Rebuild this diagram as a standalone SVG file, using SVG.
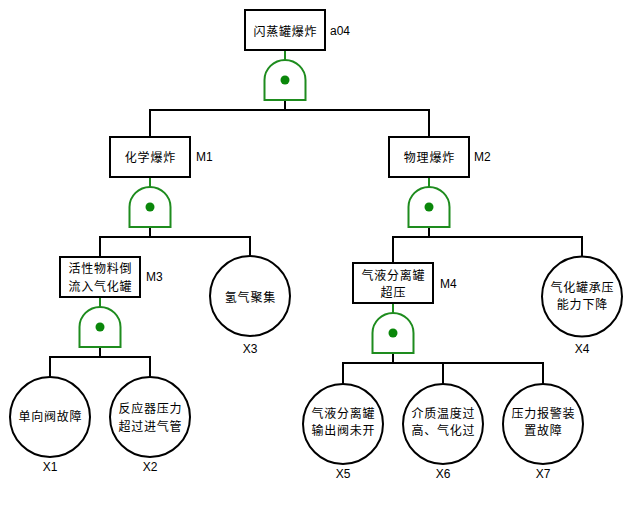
<svg xmlns="http://www.w3.org/2000/svg" width="632" height="523" viewBox="0 0 632 523">
<defs>
<style>
.bg{fill:#ffffff}
.box{fill:#ffffff;stroke:#000;stroke-width:2}
.evt{fill:#ffffff;stroke:#000;stroke-width:2}
.gate{fill:#ffffff;stroke:#1e8c1e;stroke-width:2}
.dot{fill:#0a870a}
.gstem{stroke:#1e8c1e;stroke-width:2;fill:none}
.line{stroke:#000;stroke-width:2;fill:none}
.t{font-family:"Noto Sans CJK SC","Microsoft YaHei",sans-serif;font-size:12px;letter-spacing:0.8px;fill:#000;text-anchor:middle;dominant-baseline:central}
.lbl{font-family:"Liberation Sans",Arial,sans-serif;font-size:12px;fill:#000;dominant-baseline:central}
.lblc{font-family:"Liberation Sans",Arial,sans-serif;font-size:12px;fill:#000;text-anchor:middle;dominant-baseline:central}
</style>
<path id="andgate" d="M-20.5,40 V20 A20.5,20 0 0 1 20.5,20 V40 Z"/>
</defs>
<rect class="bg" x="0" y="0" width="632" height="523"/>

<g id="connectors">
<line class="gstem" x1="285" y1="50" x2="285" y2="60"/>
<line class="line" x1="285" y1="100" x2="285" y2="110"/>
<polyline class="line" points="150,137 150,110 429,110 429,137"/>

<line class="gstem" x1="150" y1="177" x2="150" y2="187"/>
<line class="line" x1="150" y1="227" x2="150" y2="237"/>
<polyline class="line" points="100,257 100,237 250,237 250,256"/>

<line class="gstem" x1="100" y1="297" x2="100" y2="307"/>
<line class="line" x1="100" y1="347" x2="100" y2="357"/>
<polyline class="line" points="50,377 50,357 150,357 150,377"/>

<line class="gstem" x1="429" y1="177" x2="429" y2="187"/>
<line class="line" x1="429" y1="227" x2="429" y2="237"/>
<polyline class="line" points="393,263 393,237 582,237 582,256"/>

<line class="gstem" x1="393" y1="303" x2="393" y2="313"/>
<line class="line" x1="393" y1="353" x2="393" y2="363"/>
<polyline class="line" points="343,384 343,363 543,363 543,384"/>
<line class="line" x1="443" y1="363" x2="443" y2="384"/>
</g>

<g id="a04">
<rect class="box" x="245" y="10" width="80" height="40"/>
<text class="t" x="285.4" y="30">闪蒸罐爆炸</text>
<text class="lbl" x="330" y="31">a04</text>
</g>
<g id="gate-a04">
<use href="#andgate" class="gate" transform="translate(285,60)"/>
<circle class="dot" cx="285" cy="80" r="4.5"/>
</g>

<g id="M1">
<rect class="box" x="110" y="137" width="80" height="40"/>
<text class="t" x="150.4" y="156">化学爆炸</text>
<text class="lbl" x="196" y="157">M1</text>
</g>
<g id="gate-M1">
<use href="#andgate" class="gate" transform="translate(150,187)"/>
<circle class="dot" cx="150" cy="207" r="4.5"/>
</g>

<g id="M2">
<rect class="box" x="389" y="137" width="80" height="40"/>
<text class="t" x="429.4" y="156">物理爆炸</text>
<text class="lbl" x="474" y="157">M2</text>
</g>
<g id="gate-M2">
<use href="#andgate" class="gate" transform="translate(429,187)"/>
<circle class="dot" cx="429" cy="207" r="4.5"/>
</g>

<g id="M3">
<rect class="box" x="60" y="257" width="80" height="40"/>
<text class="t" x="100.4" y="267.5">活性物料倒</text>
<text class="t" x="100.4" y="285">流入气化罐</text>
<text class="lbl" x="146" y="277">M3</text>
</g>
<g id="gate-M3">
<use href="#andgate" class="gate" transform="translate(100,307)"/>
<circle class="dot" cx="100" cy="327" r="4.5"/>
</g>

<g id="M4">
<rect class="box" x="353" y="263" width="80" height="40"/>
<text class="t" x="393.4" y="274">气液分离罐</text>
<text class="t" x="393.4" y="291.5">超压</text>
<text class="lbl" x="440" y="284">M4</text>
</g>
<g id="gate-M4">
<use href="#andgate" class="gate" transform="translate(393,313)"/>
<circle class="dot" cx="393" cy="333" r="4.5"/>
</g>

<g id="X3">
<circle class="evt" cx="250" cy="296" r="40"/>
<text class="t" x="250.4" y="296">氢气聚集</text>
<text class="lblc" x="250" y="349">X3</text>
</g>
<g id="X4">
<circle class="evt" cx="582" cy="296.5" r="40"/>
<text class="t" x="582.4" y="286">气化罐承压</text>
<text class="t" x="582.4" y="303.5">能力下降</text>
<text class="lblc" x="582" y="349">X4</text>
</g>
<g id="X1">
<circle class="evt" cx="50" cy="417" r="40"/>
<text class="t" x="50.4" y="415">单向阀故障</text>
<text class="lblc" x="50" y="467">X1</text>
</g>
<g id="X2">
<circle class="evt" cx="150" cy="417" r="40"/>
<text class="t" x="150.4" y="407.5">反应器压力</text>
<text class="t" x="150.4" y="425">超过进气管</text>
<text class="lblc" x="150" y="467">X2</text>
</g>
<g id="X5">
<circle class="evt" cx="343" cy="424" r="40"/>
<text class="t" x="343.4" y="412">气液分离罐</text>
<text class="t" x="343.4" y="429.5">输出阀未开</text>
<text class="lblc" x="343" y="474">X5</text>
</g>
<g id="X6">
<circle class="evt" cx="443" cy="424" r="40"/>
<text class="t" x="443.4" y="412">介质温度过</text>
<text class="t" x="443.4" y="429.5">高、气化过</text>
<text class="lblc" x="443" y="474">X6</text>
</g>
<g id="X7">
<circle class="evt" cx="543" cy="424" r="40"/>
<text class="t" x="543.4" y="412">压力报警装</text>
<text class="t" x="543.4" y="429.5">置故障</text>
<text class="lblc" x="543" y="474">X7</text>
</g>
</svg>
